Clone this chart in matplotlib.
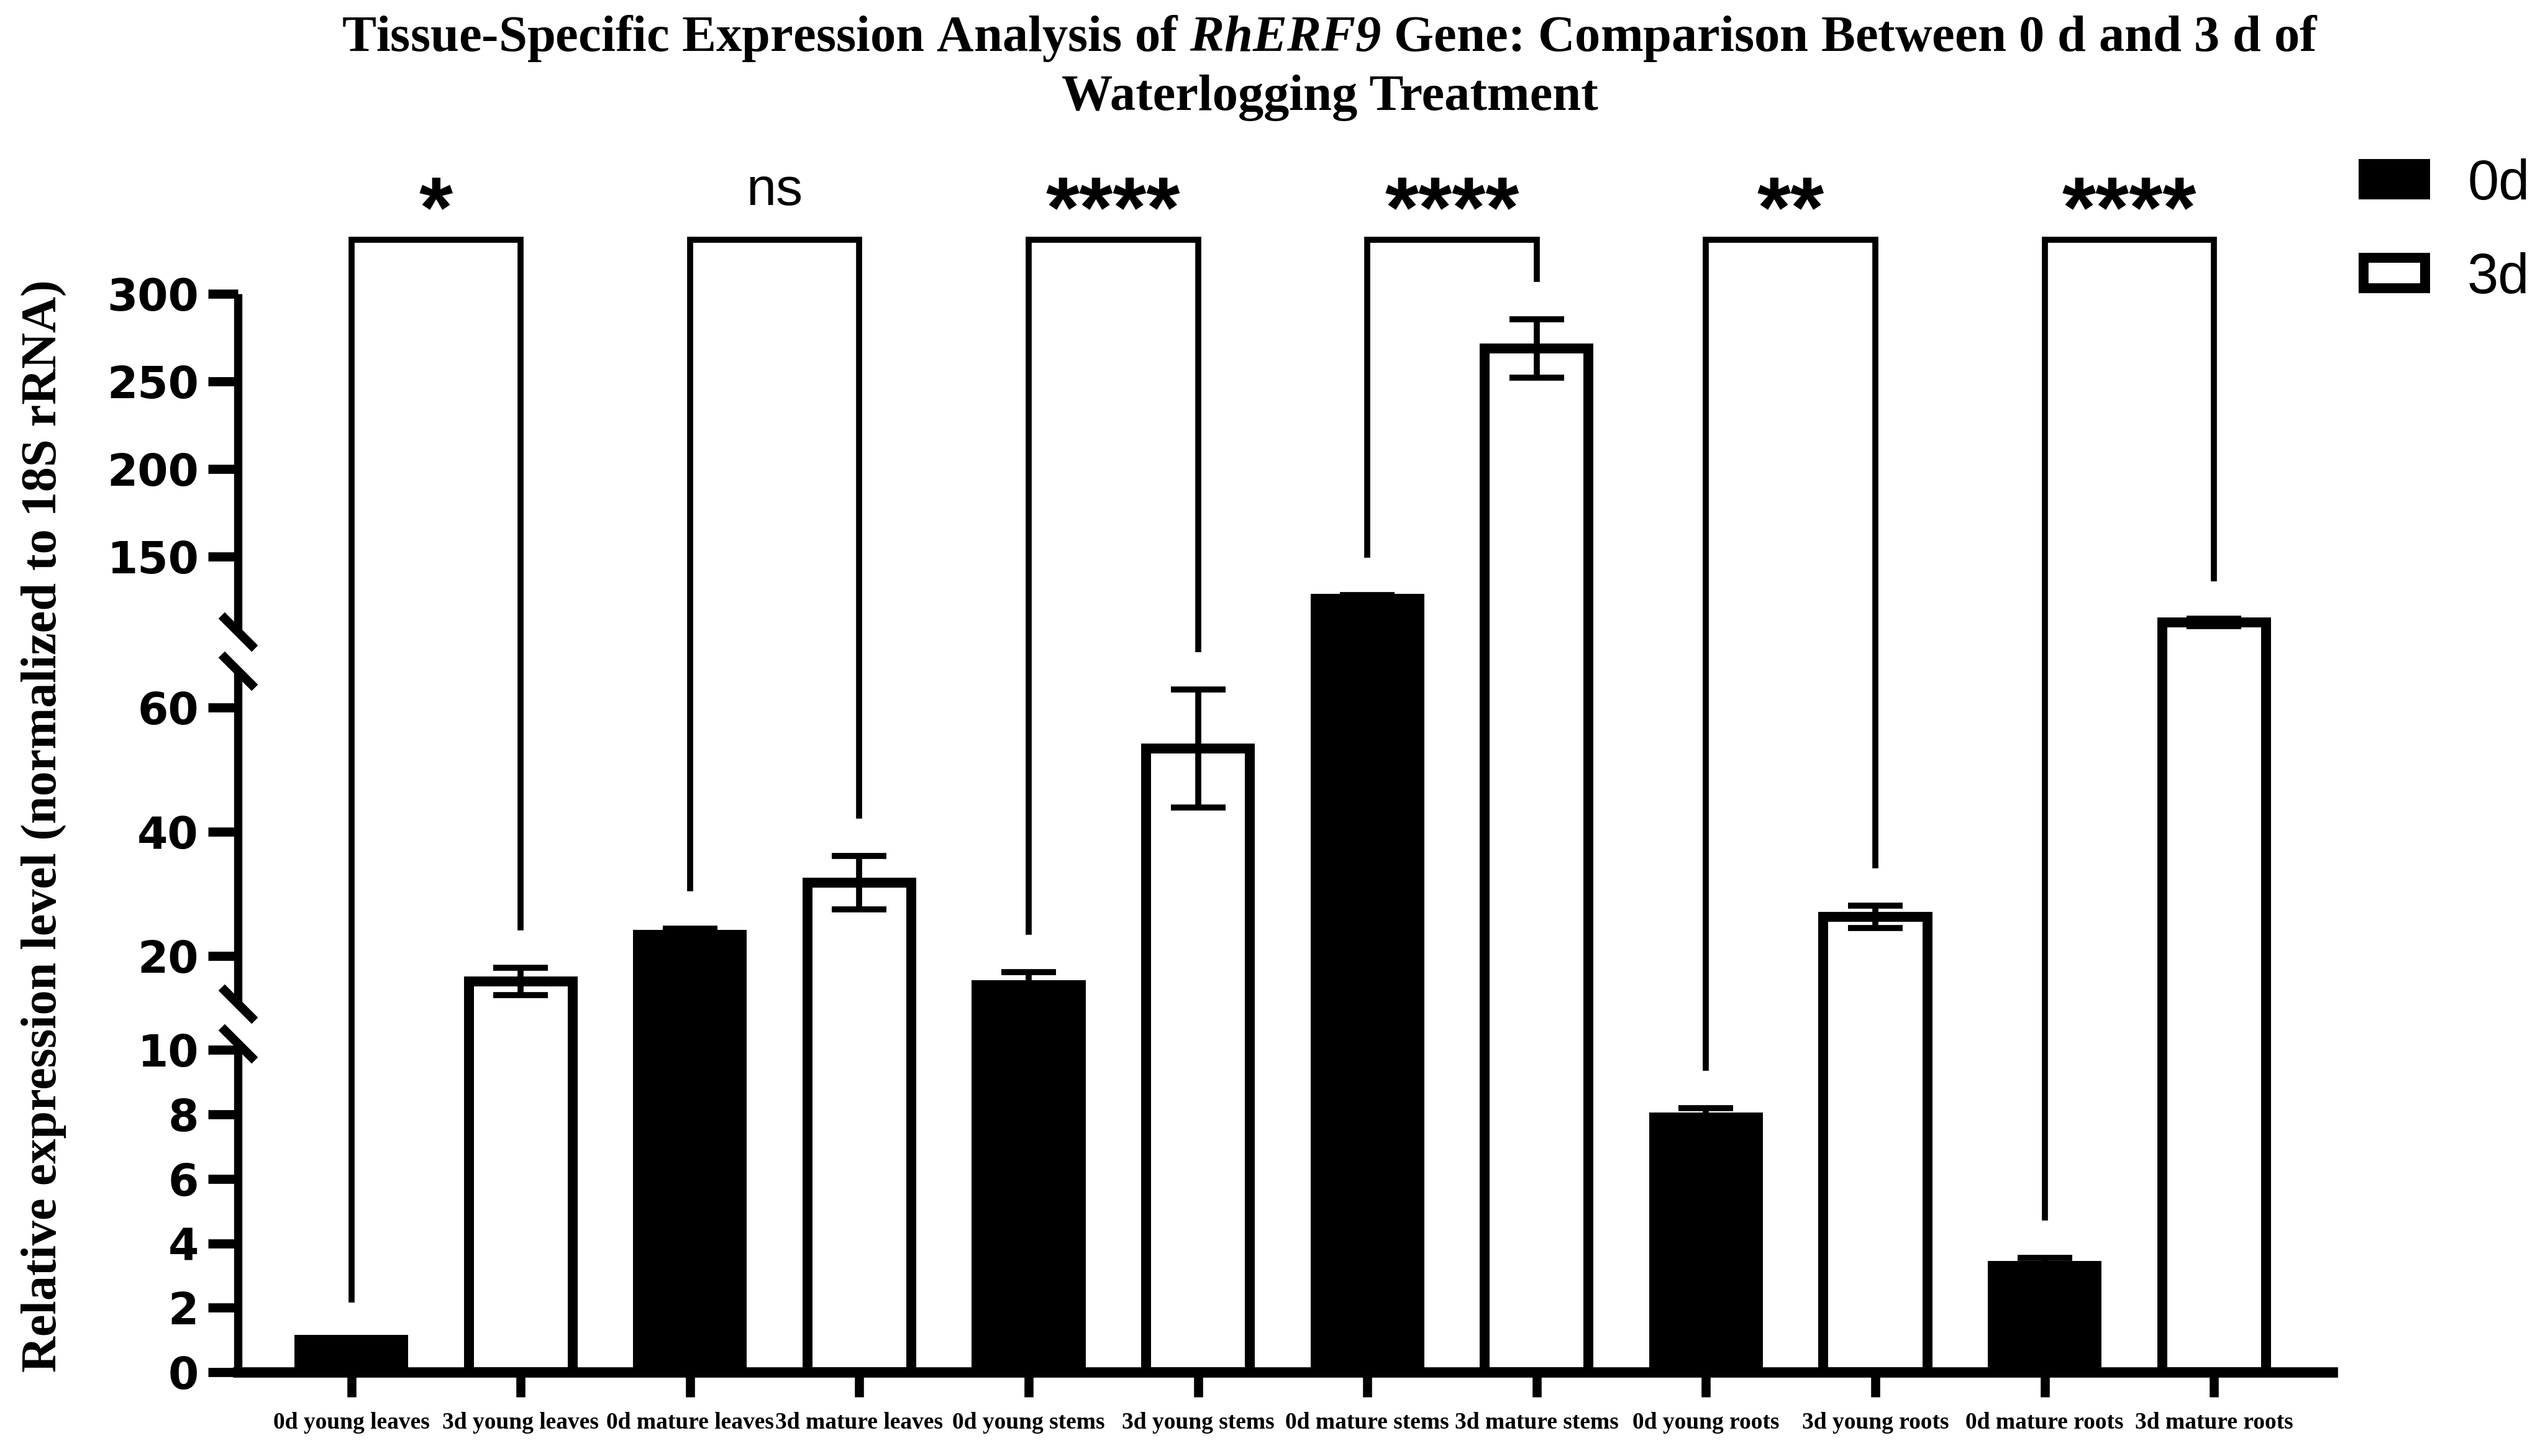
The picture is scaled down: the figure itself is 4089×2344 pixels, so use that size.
import numpy as np
import matplotlib
matplotlib.use('Agg')
from matplotlib import pyplot as plt
from matplotlib import transforms

plt.rcParams['mathtext.fontset'] = 'custom'
plt.rcParams['mathtext.rm'] = 'Liberation Serif:bold'
plt.rcParams['mathtext.it'] = 'Liberation Serif:italic:bold'
plt.rcParams['mathtext.bf'] = 'Liberation Serif:italic:bold'

categories = ['0d young leaves', '3d young leaves', '0d mature leaves',
              '3d mature leaves', '0d young stems', '3d young stems',
              '0d mature stems', '3d mature stems', '0d young roots',
              '3d young roots', '0d mature roots', '3d mature roots']
means = [1.0, 15.9, 23.4, 31.8, 15.3, 53.4, 126.0, 268.8, 7.9, 26.3, 3.3, 112.4]
errors = [0.0, 2.2, 1.0, 4.3, 2.1, 9.5, 2.0, 16.8, 0.3, 1.8, 0.25, 2.1]
groups = ['0d', '3d']
significance = ['*', 'ns', '****', '****', '**', '****']
yticks = [0, 2, 4, 6, 8, 10, 20, 40, 60, 150, 200, 250, 300]

# Broken y axis: values at the segment ends and their height (px) above the x axis.
seg_vals = [-100, 0, 10.2, 12.3, 65.9, 107.1, 300, 1000]
seg_pix = [-5200, 0, 529, 593, 1129, 1192, 1736, 3710]
segments = [(0, 10.2), (12.3, 65.9), (107.1, 300)]


def fwd(v):
    return np.interp(v, seg_vals, seg_pix)


def inv(p):
    return np.interp(p, seg_pix, seg_vals)


W, H = 4089, 2344
fig = plt.figure(figsize=(W / 100, H / 100), dpi=100)
ax = fig.add_axes([383 / W, 135 / H, (3755 - 383) / W, 1736 / H])
ax.set_yscale('function', functions=(fwd, inv))
ax.set_ylim(0, 300)
ax.set_xlim(-0.67, 11.70)

x = np.arange(len(categories))
m = np.array(means)
e = np.array(errors)
b0 = ax.bar(x[0::2], m[0::2], width=0.613, color='black', edgecolor='black',
            linewidth=11.5, zorder=2, label=groups[0])
b1 = ax.bar(x[1::2], m[1::2], width=0.613, color='white', edgecolor='black',
            linewidth=11.5, zorder=2, label=groups[1])
ax.errorbar(x, m, yerr=e, fmt='none', ecolor='black', elinewidth=7,
            capsize=32, capthick=7, zorder=3)

# significance brackets
bracket_y = 331
for i, sig in enumerate(significance):
    l, r = 2 * i, 2 * i + 1
    yl = inv(fwd(m[l] + e[l]) + 65)
    yr = inv(fwd(m[r] + e[r]) + 65)
    ax.plot([l, l, r, r], [yl, bracket_y, bracket_y, yr], color='black',
            lw=7, clip_on=False, solid_joinstyle='miter', zorder=3)
    if sig == 'ns':
        ax.annotate(sig, (l + 0.5, bracket_y), xytext=(0, 40),
                    textcoords='offset points', ha='center', va='baseline',
                    fontsize=62, family='Liberation Sans', annotation_clip=False)
    else:
        ax.annotate(sig, (l + 0.5, bracket_y), xytext=(0, 3),
                    textcoords='offset points', ha='center', va='baseline',
                    fontsize=100, family='Liberation Sans', fontweight='bold',
                    annotation_clip=False)

# axes styling
for s in ['left', 'top', 'right']:
    ax.spines[s].set_visible(False)
ax.spines['bottom'].set_linewidth(12)
trans = transforms.blended_transform_factory(ax.transAxes, ax.transData)
for lo, hi in segments:
    ax.plot([0, 0], [lo, hi], transform=trans, color='black', lw=9.6,
            clip_on=False, solid_capstyle='butt', zorder=4)
breaks = [segments[0][1], segments[1][0], segments[1][1], segments[2][0]]
ax.plot([0] * len(breaks), breaks, transform=trans, ls='none',
        marker=(2, 2, 45), ms=54, mew=10, color='black', clip_on=False, zorder=4)

ax.set_yticks(yticks)
ax.set_yticklabels([str(t) for t in yticks])
ax.minorticks_off()
ax.tick_params(axis='y', length=34.5, width=10.6, pad=11, labelsize=51)
for lbl in ax.get_yticklabels():
    lbl.set_fontweight('bold')
    lbl.set_family('DejaVu Sans')
ax.set_xticks(x)
ax.set_xticklabels(categories)
ax.tick_params(axis='x', length=29, width=10.5, pad=17, labelsize=27)
for lbl in ax.get_xticklabels():
    lbl.set_fontweight('bold')
    lbl.set_family('Liberation Serif')

ax.legend(handles=[b0, b1], labels=groups, loc='upper left',
          bbox_to_anchor=(3805 / W, 1 - 255 / H), bbox_transform=fig.transFigure,
          frameon=False, prop={'family': 'Liberation Sans', 'size': 65},
          handlelength=1.1, handleheight=0.456, handletextpad=0.75,
          labelspacing=0.73, borderpad=0, borderaxespad=0)

fig.text(2141 / W, 1 - 108 / H,
         'Tissue-Specific Expression Analysis of $\\mathbf{RhERF9}$ Gene: '
         'Comparison Between 0 d and 3 d of\nWaterlogging Treatment',
         ha='center', va='center', fontsize=59.4, fontweight='bold',
         family='Liberation Serif', linespacing=1.3)
fig.text(70 / W, 1 - 1330 / H,
         'Relative expression level (normalized to 18S rRNA)',
         rotation=90, ha='center', va='center', fontsize=57.8,
         fontweight='bold', family='Liberation Serif')

fig.savefig('out.png', dpi=100, facecolor='white')
